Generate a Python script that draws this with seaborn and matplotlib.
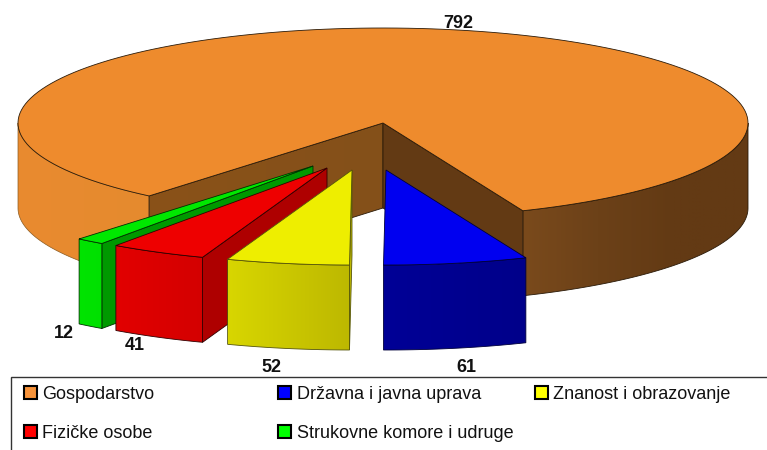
import numpy as np
import matplotlib
matplotlib.use("Agg")
import matplotlib.pyplot as plt
from matplotlib.colors import LinearSegmentedColormap
from matplotlib.legend import Legend
from matplotlib.patches import Polygon, Patch, Rectangle
import seaborn as sns

# ---- data ----
categories = ["Gospodarstvo", "Državna i javna uprava", "Znanost i obrazovanje",
              "Fizičke osobe", "Strukovne komore i udruge"]
values = [792, 61, 52, 41, 12]

# ---- style ----
sns.set_theme(style="white")
plt.rcParams["font.family"] = ["Liberation Sans", "DejaVu Sans"]
W, H = 767, 450
CX, CY, RX, RY, DEPTH = 383, 123, 365, 95, 85
START = 39.85
OFFSETS = [(0, 0), (3, 47), (-31, 47), (-56, 45), (-70, 43)]
TOP = ["#EE8B2D", "#0000F0", "#EEEE00", "#EE0000", "#00E800"]
LEGEND = ["#F7933A", "#0000FF", "#FFFF00", "#FF0000", "#00FF00"]
FRONT = [None, ["#000096", "#00008A"], ["#D8D600", "#BDB800"], ["#E20000", "#D40000"], ["#00E400", "#00E000"]]
WALL = [None, None, "#BDB800", "#AE0000", "#009900"]
EDGE = ["#2a1a08", "#00003a", "#55550a", "#300000", "#003000"]
LABELS = [(458, 23), (466, 367), (271, 367), (135, 346), (64, 333)]

fig = plt.figure(figsize=(W / 100, H / 100), dpi=100)
ax = fig.add_axes([0, 0, 1, 1])
z = [1]


def pt(b, off=(0, 0), drop=0):
    b = np.radians(b)
    return (np.c_[CX - RX * np.sin(b), CY + RY * np.cos(b)] + np.array(off) + [0, drop])


def arc(b0, b1, off=(0, 0), drop=0):
    return pt(np.linspace(b0, b1, 160), off, drop)


def solid(poly, color, edge="#1a1a1a", lw=0.6):
    z[0] += 1
    ax.add_patch(Polygon(poly, closed=True, facecolor=color, edgecolor=edge, linewidth=lw, zorder=z[0]))


def grad(poly, colors, edge="#1a1a1a", lw=0.6):
    z[0] += 1
    patch = Polygon(poly, closed=True, facecolor="none", edgecolor=edge, linewidth=lw, zorder=z[0] + 0.5)
    ax.add_patch(patch)
    x0, x1 = poly[:, 0].min(), poly[:, 0].max()
    y0, y1 = poly[:, 1].min(), poly[:, 1].max()
    cmap = LinearSegmentedColormap.from_list("g", colors)
    im = ax.imshow(np.linspace(0, 1, 256)[None, :], cmap=cmap, extent=(x0, x1, y1, y0),
                   aspect="auto", zorder=z[0], interpolation="bilinear")
    im.set_clip_path(patch)


def side(b0, b1, off=(0, 0)):
    a = arc(b0, b1, off)
    return np.vstack([a, arc(b0, b1, off, DEPTH)[::-1]])


def radial(b, off=(0, 0)):
    apex = np.array([[CX + off[0], CY + off[1]]])
    p = pt(np.array([b]), off)
    return np.vstack([apex, p, p + [0, DEPTH], apex + [0, DEPTH]])


sweeps = np.array(values) / sum(values) * 360
starts = START + np.r_[0, np.cumsum(sweeps)[:-1]]
ends = starts + sweeps

# main slice: walls and outer rim
grad(side(starts[0], 90), ["#E98B30", "#E58A2E"], edge="#8a5a20", lw=0.5)
grad(side(270, ends[0]), ["#7A4A1C", "#6C4118", "#633A14", "#633A14"], edge="#2a1a08")
grad(radial(starts[0]), ["#8A5218", "#84501A"], edge="#2a1a08")
solid(radial(ends[0]), "#633A14", edge="#2a1a08")
apex = np.array([[CX, CY]])
solid(np.vstack([apex, arc(starts[0], ends[0])]), TOP[0], edge="#2a1a08")

# exploded slices, back to front
for i in [4, 3, 2, 1]:
    off = OFFSETS[i]
    apex = np.array([[CX + off[0], CY + off[1]]])
    if WALL[i]:
        solid(radial(starts[i], off), WALL[i], edge=EDGE[i])
    grad(side(starts[i], ends[i], off), FRONT[i], edge=EDGE[i])
    solid(np.vstack([apex, arc(starts[i], ends[i], off)]), TOP[i], edge=EDGE[i])

for val, (x, y) in zip(values, LABELS):
    ax.text(x, y, str(val), ha="center", va="center", fontsize=13,
            fontweight="bold", color="#111111", zorder=100)

ax.set_xlim(0, W)
ax.set_ylim(H, 0)
ax.axis("off")

# legend frame runs off the right and bottom of the picture
ax.add_patch(Rectangle((10.5, 376.5), 770, 90, facecolor="white", edgecolor="#333333",
                       linewidth=1.0, zorder=150))

columns = [([0, 3], 23.5), ([1, 4], 278), ([2], 534.5)]
for idx, x_col in columns:
    handles = [Patch(facecolor=LEGEND[i], edgecolor="black", linewidth=1.5) for i in idx]
    leg = Legend(ax, handles, [categories[i] for i in idx], loc="upper left",
                 bbox_to_anchor=(x_col / W, 1 - 386 / H), bbox_transform=ax.transAxes,
                 fontsize=13, frameon=False, handlelength=0.72, handleheight=0.72,
                 handletextpad=0.33, labelspacing=1.22, borderpad=0, borderaxespad=0,
                 labelcolor="#111111")
    leg.set_zorder(200)
    ax.add_artist(leg)

fig.savefig("out.png", dpi=100)
